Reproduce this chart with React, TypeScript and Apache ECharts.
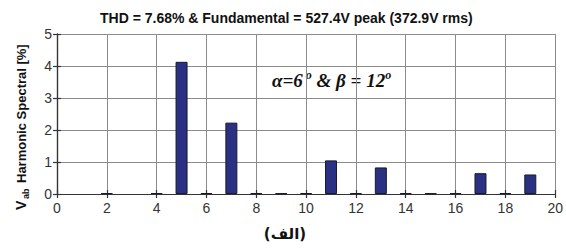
import React, { useEffect, useRef } from "react";
import * as echarts from "echarts";

const harmonics = [2, 4, 5, 6, 7, 8, 9, 10, 11, 12, 13, 14, 15, 16, 17, 18, 19];
const values = [0.03, 0.03, 4.13, 0.03, 2.23, 0.03, 0.02, 0.03, 1.05, 0.03, 0.83, 0.03, 0.02, 0.03, 0.65, 0.03, 0.61];
const titleText = "THD = 7.68% & Fundamental = 527.4V peak (372.9V rms)";
const yTitle = "Harmonic Spectral [%]";
const bottomLabel = "(الف)";

export default function App() {
  const ref = useRef<HTMLDivElement>(null);
  useEffect(() => {
    if (!ref.current) return;
    const chart = echarts.init(ref.current, undefined, { renderer: "svg" });
    const axisLineStyle = { color: "#333", width: 1.2 };
    const labelStyle = { color: "#333", fontSize: 14, fontFamily: "Liberation Sans, Arial, sans-serif" };
    chart.setOption({
      animation: false,
      backgroundColor: "#fff",
      grid: { left: 57, right: 6, top: 34, bottom: 54 },
      xAxis: [
        {
          type: "value", min: 0, max: 20, interval: 2, position: "bottom",
          axisLine: { show: true, lineStyle: axisLineStyle },
          axisTick: { show: true, inside: true, length: 4, lineStyle: axisLineStyle },
          axisLabel: { ...labelStyle, margin: 7 },
          splitLine: { show: true, lineStyle: { color: "#8c8c8c", width: 1 } },
        },
        {
          type: "value", min: 0, max: 20, interval: 2, position: "top",
          axisLine: { show: true, lineStyle: axisLineStyle },
          axisTick: { show: true, inside: true, length: 4, lineStyle: axisLineStyle },
          axisLabel: { show: false },
          splitLine: { show: false },
        },
      ],
      yAxis: [
        {
          type: "value", min: 0, max: 5, interval: 1, position: "left",
          axisLine: { show: true, lineStyle: axisLineStyle },
          axisTick: { show: true, inside: true, length: 4, lineStyle: axisLineStyle },
          axisLabel: { ...labelStyle, margin: 5 },
          splitLine: { show: true, lineStyle: { color: "#8c8c8c", width: 1 } },
        },
        {
          type: "value", min: 0, max: 5, interval: 1, position: "right",
          axisLine: { show: true, lineStyle: axisLineStyle },
          axisTick: { show: true, inside: true, length: 4, lineStyle: axisLineStyle },
          axisLabel: { show: false },
          splitLine: { show: false },
        },
      ],
      series: [
        {
          type: "bar",
          xAxisIndex: 0,
          yAxisIndex: 0,
          barWidth: 12,
          data: harmonics.map((h, i) => [h, values[i]]),
          itemStyle: { color: "#2a3182", borderColor: "#1a1a2a", borderWidth: 1 },
        },
      ],
      graphic: [
        {
          type: "text", left: 100, top: 11,
          style: { text: titleText, fill: "#111", font: "bold 14px Liberation Sans, Arial, sans-serif" },
        },
        {
          type: "text", left: 272, top: 69,
          style: {
            text: "{a|α=6}{s| o}{a| & β = 12}{s|o}",
            rich: {
              a: { fontSize: 19, fontWeight: "bold", fontStyle: "italic", fontFamily: "Liberation Serif, Times New Roman, serif", fill: "#111", lineHeight: 21, verticalAlign: "bottom" },
              s: { fontSize: 12, fontWeight: "bold", fontStyle: "italic", fontFamily: "Liberation Serif, Times New Roman, serif", fill: "#111", lineHeight: 21, verticalAlign: "top" },
            },
          },
        },
        {
          type: "group", x: 21, y: 210, rotation: Math.PI / 2,
          children: [
            { type: "text", x: 0, y: 0, style: { text: "V", font: "bold 14px Liberation Sans, Arial, sans-serif", fill: "#111", verticalAlign: "middle", align: "left" } },
            { type: "text", x: 11, y: 5, style: { text: "ab", font: "bold 9px Liberation Sans, Arial, sans-serif", fill: "#111", verticalAlign: "middle", align: "left" } },
            { type: "text", x: 27, y: 0, style: { text: yTitle, font: "bold 13px Liberation Sans, Arial, sans-serif", fill: "#111", verticalAlign: "middle", align: "left" } },
          ],
        },
        {
          type: "text", x: 285, y: 234,
          style: { text: bottomLabel, font: "bold 15px DejaVu Sans, sans-serif", fill: "#111", align: "center", verticalAlign: "middle" },
        },
      ],
    });
    return () => chart.dispose();
  }, []);
  return <div ref={ref} style={{ position: "fixed", left: 0, top: 0, width: 566, height: 248 }} />;
}
